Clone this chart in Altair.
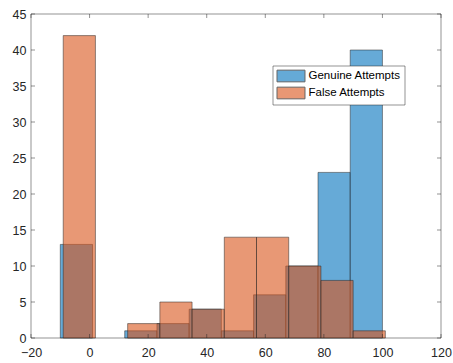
import altair as alt
import pandas as pd

series_names = ["Genuine Attempts", "False Attempts"]
genuine_edges = [-10, 1, 12, 23, 34, 45, 56, 67, 78, 89, 100]
genuine_counts = [13, 0, 1, 2, 4, 1, 6, 10, 23, 40]
false_edges = [-9, 2, 13, 24, 35, 46, 57, 68, 79, 90, 101]
false_counts = [42, 0, 2, 5, 4, 14, 14, 10, 8, 1]
x_ticks = [-20, 0, 20, 40, 60, 80, 100, 120]
y_ticks = [0, 5, 10, 15, 20, 25, 30, 35, 40, 45]

rows = []
for name, edges, counts in [(series_names[0], genuine_edges, genuine_counts),
                            (series_names[1], false_edges, false_counts)]:
    for i, c in enumerate(counts):
        if c > 0:
            rows.append({"series": name, "x0": edges[i], "x1": edges[i + 1], "count": c, "base": 0})
df = pd.DataFrame(rows)

W, H = 410, 324
FONT = "Liberation Sans"
AX = "#262626"

xscale = alt.Scale(domain=[-20, 120], nice=False, zero=False)
yscale = alt.Scale(domain=[0, 45], nice=False)
x_axis = alt.Axis(values=x_ticks, ticks=False, domain=False, grid=False, title=None,
                  labelFlush=False, labelOverlap=False, labelPadding=8,
                  labelFontSize=12.5, labelFont=FONT, labelColor=AX)
y_axis = alt.Axis(values=y_ticks, ticks=False, domain=False, grid=False, title=None,
                  labelOverlap=False, labelFlush=False, labelPadding=5,
                  labelFontSize=12.5, labelFont=FONT, labelColor=AX)

bars = alt.Chart(df).mark_rect(fillOpacity=0.6, stroke=AX, strokeWidth=0.5).encode(
    x=alt.X("x0:Q", scale=xscale, axis=x_axis),
    x2="x1:Q",
    y=alt.Y("count:Q", scale=yscale, axis=y_axis),
    y2="base:Q",
    stroke=alt.value(AX),
    color=alt.Color("series:N",
                    scale=alt.Scale(domain=series_names, range=["#0072BD", "#D95319"]),
                    legend=alt.Legend(title=None, orient="none", legendX=242, legendY=52,
                                      direction="vertical",
                                      symbolType="M-2.333,-0.975H2.333V0.975H-2.333Z",
                                      symbolSize=144, symbolOffset=8, labelOffset=11,
                                      symbolStrokeColor="#000000", symbolStrokeWidth=1,
                                      symbolOpacity=0.6,
                                      labelFontSize=11.5, labelFont=FONT, labelColor="#000000",
                                      padding=3.5, rowPadding=0, strokeColor=AX,
                                      fillColor="white")),
)

xt = pd.DataFrame({"t": x_ticks})
yt = pd.DataFrame({"t": y_ticks})
tick_style = dict(color=AX, strokeWidth=0.5)

xb = alt.Chart(xt).mark_rule(**tick_style).encode(x=alt.X("t:Q", scale=xscale, axis=x_axis), y=alt.value(H), y2=alt.value(H - 4))
xtop = alt.Chart(xt).mark_rule(**tick_style).encode(x=alt.X("t:Q", scale=xscale, axis=x_axis), y=alt.value(0), y2=alt.value(4))
yl = alt.Chart(yt).mark_rule(**tick_style).encode(y=alt.Y("t:Q", scale=yscale, axis=y_axis), x=alt.value(0), x2=alt.value(4))
yr = alt.Chart(yt).mark_rule(**tick_style).encode(y=alt.Y("t:Q", scale=yscale, axis=y_axis), x=alt.value(W - 4), x2=alt.value(W))

chart = alt.layer(bars, xb, xtop, yl, yr).properties(
    width=W, height=H,
    autosize=alt.AutoSizeParams(type="none"),
    padding={"left": 31, "top": 14, "right": 12, "bottom": 25},
    background="white",
).configure_view(stroke=AX, strokeWidth=0.5).configure_legend(strokeWidth=0.5)

chart.save("out.html", embed_options={"renderer": "svg", "actions": False})
